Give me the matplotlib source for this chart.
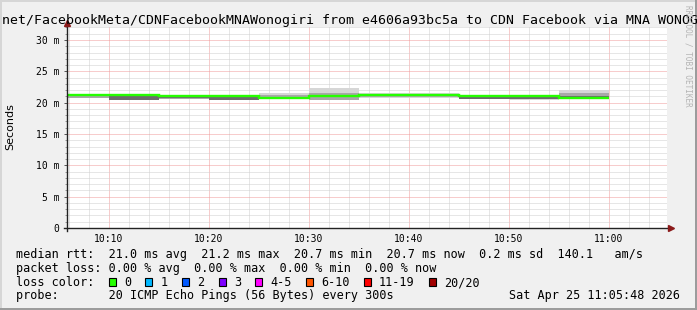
import matplotlib
matplotlib.use("Agg")
import matplotlib.pyplot as plt
from matplotlib.patches import Rectangle

W, H = 697, 310
MONO = "DejaVu Sans Mono"

# one rrd step every 5 minutes, labelled by the end of the step
step_end = ["10:10", "10:15", "10:20", "10:25", "10:30", "10:35",
            "10:40", "10:45", "10:50", "10:55", "11:00"]
median_ms = [21.2, 21.2, 21.05, 21.05, 20.75, 21.1, 21.2, 21.15, 21.05, 21.05, 20.7]
# smoke: spread of the 20 pings in each step (ms)
ping_min = [20.75, 20.4, 20.55, 20.4, 20.65, 20.4, 20.8, 20.8, 20.55, 20.5, 20.6]
ping_p10 = [20.78, 20.45, 20.6, 20.42, 20.7, 20.5, 20.85, 20.9, 20.6, 20.55, 20.65]
ping_p25 = [21.0, 20.5, 20.8, 20.45, 20.75, 20.9, 21.0, 21.0, 20.65, 20.6, 20.75]
ping_p75 = [21.0, 21.1, 21.0, 21.0, 20.8, 21.2, 21.3, 21.25, 21.05, 21.0, 21.1]
ping_p90 = [21.25, 21.2, 21.05, 21.05, 21.15, 21.5, 21.45, 21.4, 21.1, 21.1, 21.5]
ping_max = [21.3, 21.25, 21.1, 21.1, 21.6, 22.4, 21.6, 21.55, 21.2, 21.2, 22.0]

x_ticks = ["10:10", "10:20", "10:30", "10:40", "10:50", "11:00"]
y_ticks = [0, 5, 10, 15, 20, 25, 30]

loss_labels = ["0", "1", "2", "3", "4-5", "6-10", "11-19", "20/20"]
loss_colors = ["#26ff00", "#00b8ff", "#0059ff", "#7e00ff",
               "#ff00ff", "#ff5500", "#ff0000", "#a10000"]

title = ("net/FacebookMeta/CDNFacebookMNAWonogiri from e4606a93bc5a "
         "to CDN Facebook via MNA WONOGIRI")
line_rtt = ("median rtt:  21.0 ms avg  21.2 ms max  20.7 ms min  "
            "20.7 ms now  0.2 ms sd  140.1   am/s")
line_loss = "packet loss: 0.00 % avg  0.00 % max  0.00 % min  0.00 % now"
line_probe = "probe:       20 ICMP Echo Pings (56 Bytes) every 300s"
stamp = "Sat Apr 25 11:05:48 2026"


def minutes(t):
    h, m = t.split(":")
    return (int(h) - 10) * 60 + int(m)


ends = [minutes(t) for t in step_end]
edges = [ends[0] - 5] + ends
t0, t1 = 5.8, 65.8  # 10:05:48 .. 11:05:48

fig = plt.figure(figsize=(W / 100, H / 100), dpi=100, facecolor="#f0f0f0")
ax = fig.add_axes([66.5 / W, (H - 228) / H, 600 / W, (228 - 27) / H])
ax.set_facecolor("white")
for s in ax.spines.values():
    s.set_visible(False)

# smoke + median
ax.stairs(ping_max, edges, baseline=ping_min, fill=True, color="#d6d6d6", lw=0, zorder=2)
ax.stairs(ping_p90, edges, baseline=ping_p10, fill=True, color="#a8a8a8", lw=0, zorder=3)
ax.stairs(ping_p75, edges, baseline=ping_p25, fill=True, color="#6c6c6c", lw=0, zorder=4)
ax.stairs(median_ms, edges, baseline=None, color=loss_colors[0], lw=1.7, zorder=5)

ax.set_xlim(t0, t1)
ax.set_ylim(0, 32.07)

# grid
ax.set_xticks([minutes(t) for t in x_ticks])
ax.set_xticklabels(x_ticks, fontfamily=MONO, fontsize=7)
ax.set_xticks(range(6, 66, 2), minor=True)
ax.set_yticks(y_ticks)
ax.set_yticklabels(["0"] + ["%d m" % v for v in y_ticks[1:]], fontfamily=MONO, fontsize=7)
ax.set_yticks(range(0, 33), minor=True)
ax.set_axisbelow(True)
ax.grid(which="minor", color="#cfcfcf", linestyle=(0, (1, 1)), linewidth=0.72, zorder=0)
ax.grid(which="major", color="#f09a9a", linestyle=(0, (1, 1)), linewidth=0.72, zorder=1)
ax.tick_params(axis="x", which="both", length=0, pad=4, colors="black")
ax.tick_params(axis="y", which="major", length=2.5, width=0.7, color="#555555", pad=2.4)
ax.tick_params(axis="y", which="minor", length=1.5, width=0.6, color="#888888")

# axes with arrows
ax.plot([0, 0], [-3 / 201, 1 + 3 / 201], transform=ax.transAxes, color="#222222",
        lw=1.0, clip_on=False, zorder=6)
ax.plot([-3 / 600, 1 + 2 / 600], [0, 0], transform=ax.transAxes, color="#222222",
        lw=1.0, clip_on=False, zorder=6)
ax.plot([0], [1 + 4 / 201], marker="^", ms=5, color="#8b1a1a", transform=ax.transAxes,
        clip_on=False, zorder=7)
ax.plot([1 + 4 / 600], [0], marker=">", ms=5, color="#8b1a1a", transform=ax.transAxes,
        clip_on=False, zorder=7)

ax.set_ylabel("Seconds", fontsize=8, fontfamily="DejaVu Sans")
ax.yaxis.set_label_coords(-(66.5 - 15) / 600, (228 - 127) / 201)


def fx(px):
    return px / W


def fy(py):
    return 1 - py / H


fig.text(fx(2), fy(24), title, fontfamily=MONO, fontsize=9.5, va="baseline", ha="left")
fig.text(fx(688), fy(5), "RRDTOOL / TOBI OETIKER", fontfamily=MONO, fontsize=5.5,
         rotation=270, ha="center", va="top", color="#b4b4b4")

fs = 8.5
cw = 7.1
fig.text(fx(16), fy(258), line_rtt, fontfamily=MONO, fontsize=fs, va="baseline")
fig.text(fx(16), fy(272), line_loss, fontfamily=MONO, fontsize=fs, va="baseline")
fig.text(fx(16), fy(286), "loss color:", fontfamily=MONO, fontsize=fs, va="baseline")
fig.text(fx(16), fy(299.5), line_probe, fontfamily=MONO, fontsize=fs, va="baseline")
fig.text(fx(680), fy(299.5), stamp, fontfamily=MONO, fontsize=fs, va="baseline", ha="right")

bx = 108.7
for lab, col in zip(loss_labels, loss_colors):
    fig.add_artist(Rectangle((fx(bx), fy(286)), 7 / W, 8 / H, transform=fig.transFigure,
                             facecolor=col, edgecolor="black", lw=0.8))
    lx = bx + 15.3
    fig.text(fx(lx), fy(286), lab, fontfamily=MONO, fontsize=fs, va="baseline")
    bx = lx + (len(lab) + 2) * cw

# frame shading
fig.add_artist(Rectangle((0, 0), 2 / W, 1, transform=fig.transFigure, color="#d6d6d6", lw=0))
fig.add_artist(Rectangle((0, 1 - 2 / H), 1, 2 / H, transform=fig.transFigure, color="#d6d6d6", lw=0))
fig.add_artist(Rectangle((1 - 2 / W, 0), 2 / W, 1, transform=fig.transFigure, color="#9c9c9c", lw=0))
fig.add_artist(Rectangle((0, 0), 1, 2 / H, transform=fig.transFigure, color="#9c9c9c", lw=0))

fig.savefig("out.png", dpi=100, facecolor=fig.get_facecolor())
